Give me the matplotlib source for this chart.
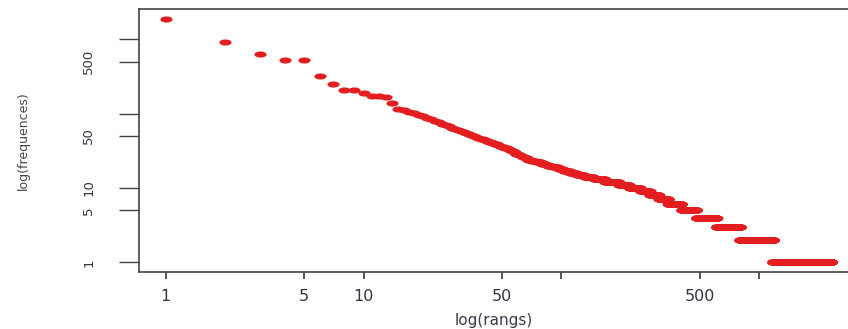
import numpy as np
import matplotlib
matplotlib.use("Agg")
import matplotlib.pyplot as plt
from matplotlib.path import Path

# Frequencies of the most frequent words (ranks 1..70), one value per rank
top_freqs = [1890, 910, 635, 528, 528, 316, 252, 211, 209, 189,
             172, 171, 168, 140, 115, 112, 106, 101, 97, 92,
             88, 84, 80, 76, 73, 70, 68, 65, 63, 61,
             59, 57, 55, 54, 52, 50, 49, 47, 46, 45,
             44, 43, 42, 41, 40, 39, 39, 38, 37, 36,
             35, 34, 34, 33, 32, 31, 31, 30, 29, 29,
             28, 28, 27, 26, 26, 25, 25, 24, 24, 24]

# Lower frequencies and how many words share each of them
tail_freqs = [23, 22, 21, 20, 19, 18, 17, 16, 15, 14, 13, 12, 11, 10,
              9, 8, 7, 6, 5, 4, 3, 2, 1]
tail_counts = [4, 5, 5, 6, 6, 6, 8, 9, 11, 15, 20, 30, 25, 30,
               29, 31, 36, 58, 77, 127, 190, 375, 1137]

x_ticks = [1, 5, 10, 50, 100, 500, 1000]
x_ticklabels = ["1", "5", "10", "50", "", "500", ""]
y_ticks = [1, 5, 10, 50, 100, 500, 1000]
y_ticklabels = ["1", "5", "10", "50", "", "500", ""]

freqs = np.concatenate([np.array(top_freqs, dtype=float),
                        np.repeat(tail_freqs, tail_counts).astype(float)])
ranks = np.arange(1, len(freqs) + 1)

W, H = 848, 329
fig = plt.figure(figsize=(W / 100, H / 100), dpi=100)
ax = fig.add_axes([139 / W, (H - 272) / H, 719 / W, 263 / H])

# stretched dot marker (the reference is horizontally stretched)
t = np.linspace(0, 2 * np.pi, 40)
ell = Path(np.column_stack([np.cos(t), 0.5 * np.sin(t)]), closed=True)

ax.plot(ranks, freqs, linestyle="none", marker=ell, markersize=8.8,
        color="#E41E20", markeredgewidth=0)

ax.set_xscale("log")
ax.set_yscale("log")
ax.margins(x=0.04, y=0.04)

ax.set_xticks(x_ticks)
ax.set_xticklabels(x_ticklabels)
ax.set_yticks(y_ticks)
ax.set_yticklabels(y_ticklabels)
ax.minorticks_off()

for s in ["left", "top", "bottom"]:
    ax.spines[s].set_color("#444444")
    ax.spines[s].set_linewidth(1.2)
ax.spines["right"].set_visible(False)

ax.tick_params(axis="x", direction="out", length=5, width=1.4,
               color="#555555", pad=7, labelsize=11.5, labelcolor="#333344")
ax.tick_params(axis="y", direction="out", length=14.5, width=1.0,
               color="#444444", pad=17, labelsize=9.5, labelcolor="#333344",
               labelrotation=90)
for lab in ax.get_yticklabels():
    lab.set_va("center")

ax.set_xlabel("log(rangs)", fontsize=11, color="#3a3a4a")
ax.xaxis.set_label_coords(0.494, -0.186)
ax.xaxis.label.set_va("center")
ax.set_ylabel("log(frequences)", fontsize=9, color="#444444")
ax.yaxis.set_label_coords(-0.1613, 0.5)
ax.yaxis.label.set_va("center")

fig.savefig("out.png", dpi=100)
